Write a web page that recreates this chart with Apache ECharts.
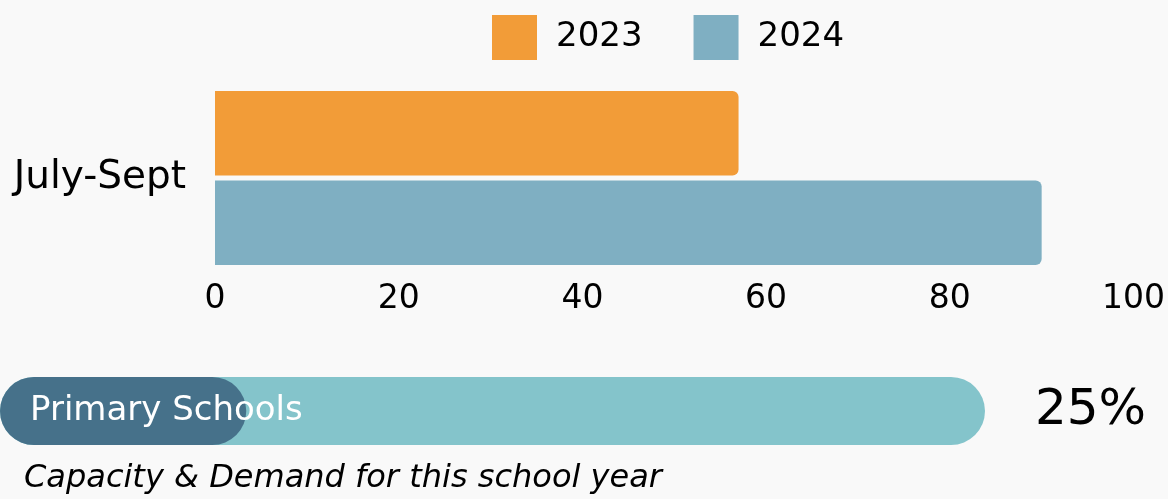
<!DOCTYPE html>
<html>
<head>
<meta charset="utf-8">
<script src="https://cdn.jsdelivr.net/npm/echarts@6/dist/echarts.min.js"></script>
<style>
  html, body { margin: 0; padding: 0; background: #f9f9f9; }
  #chart { width: 1168px; height: 499px; }
</style>
</head>
<body>
<div id="chart"></div>
<script>
// Quarterly comparison
const categories = ['July-Sept'];
const seriesNames = ['2023', '2024'];
const values2023 = [57];
const values2024 = [90];
const xTicks = [0, 20, 40, 60, 80, 100];

// Progress indicator
const progressLabel = 'Primary Schools';
const progressValue = [25];
const captionText = 'Capacity & Demand for this school year';

const FONT = 'DejaVu Sans, sans-serif';
const colors = ['#f29c38', '#7fafc2'];

const chart = echarts.init(document.getElementById('chart'), null, { renderer: 'canvas' });

chart.setOption({
  backgroundColor: '#f9f9f9',
  animation: false,
  legend: {
    data: seriesNames,
    icon: 'rect',
    left: 492,
    top: 15,
    padding: 0,
    itemWidth: 45,
    itemHeight: 45,
    itemGap: 51,
    textStyle: { fontFamily: FONT, fontSize: 34, color: '#000', padding: [6, 0, 0, 14] }
  },
  grid: [
    { left: 215, right: 31, top: 91, height: 174 },
    { left: 0, width: 985, top: 377, height: 68 }
  ],
  xAxis: [
    {
      gridIndex: 0, type: 'value', min: xTicks[0], max: xTicks[xTicks.length - 1], interval: 20,
      axisLine: { show: false }, axisTick: { show: false }, splitLine: { show: false },
      axisLabel: { fontFamily: FONT, fontSize: 33, color: '#000', margin: 18 }
    },
    { gridIndex: 1, type: 'value', min: 0, max: 100, show: false }
  ],
  yAxis: [
    {
      gridIndex: 0, type: 'category', data: categories, inverse: true,
      axisLine: { show: false }, axisTick: { show: false },
      axisLabel: { fontFamily: FONT, fontSize: 39, color: '#000', margin: 29 }
    },
    { gridIndex: 1, type: 'category', data: [progressLabel], show: false }
  ],
  series: [
    {
      name: seriesNames[0], type: 'bar', xAxisIndex: 0, yAxisIndex: 0,
      data: values2023, barGap: '6%', barCategoryGap: '0%',
      itemStyle: { color: colors[0], borderRadius: [0, 6, 6, 0] }
    },
    {
      name: seriesNames[1], type: 'bar', xAxisIndex: 0, yAxisIndex: 0,
      data: values2024, barGap: '6%', barCategoryGap: '0%',
      itemStyle: { color: colors[1], borderRadius: [0, 6, 6, 0] }
    },
    {
      name: progressLabel, type: 'bar', xAxisIndex: 1, yAxisIndex: 1,
      data: progressValue, barWidth: 68,
      showBackground: true,
      backgroundStyle: { color: '#84c4cb', borderRadius: 34 },
      itemStyle: { color: '#46718a', borderRadius: 34 },
      label: {
        show: true, position: 'insideLeft', distance: 30,
        formatter: progressLabel,
        fontFamily: FONT, fontSize: 34, color: '#fff'
      }
    }
  ],
  graphic: [
    {
      type: 'text', left: 1035, top: 386,
      style: { text: progressValue[0] + '%', fontFamily: FONT, fontSize: 50, fill: '#000' }
    },
    {
      type: 'text', left: 24, top: 463,
      style: { text: captionText, fontFamily: FONT, fontSize: 32, fontStyle: 'italic', fill: '#000' }
    }
  ]
});
</script>
</body>
</html>
